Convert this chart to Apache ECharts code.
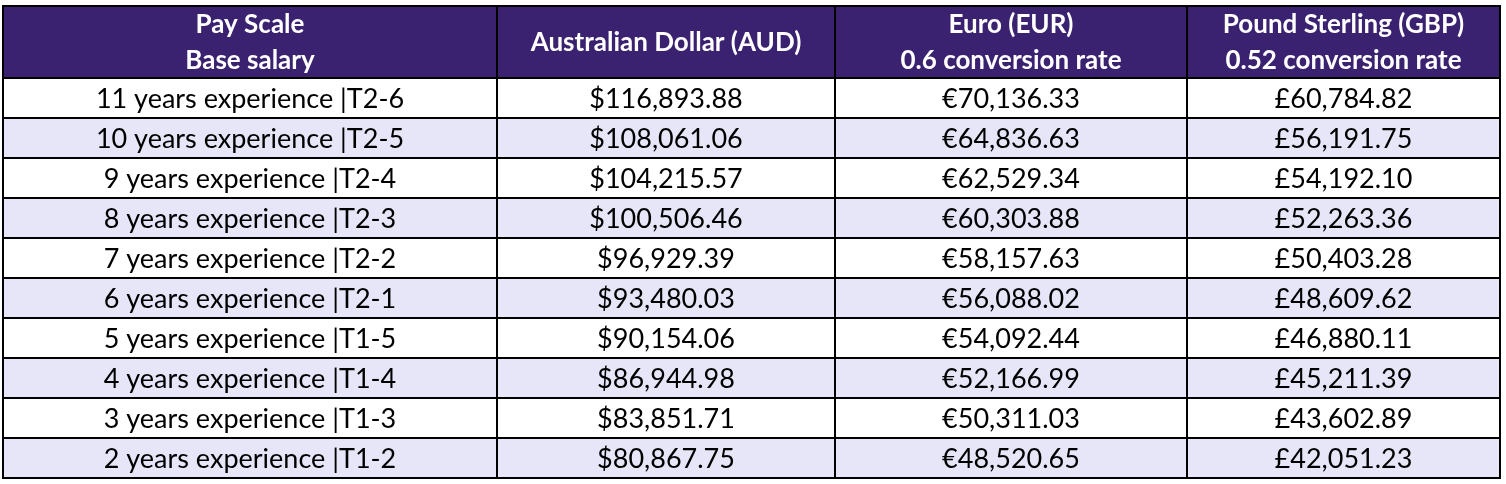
<!DOCTYPE html>
<html>
<head>
<meta charset="utf-8">
<script src="https://cdn.jsdelivr.net/npm/echarts@6/dist/echarts.min.js"></script>
<style>
  html, body { margin: 0; padding: 0; background: #fff; }
  #chart { width: 1506px; height: 484px; }
</style>
</head>
<body>
<div id="chart"></div>
<script>
// table contents
const headers = [
  'Pay Scale\nBase salary',
  'Australian Dollar (AUD)',
  'Euro (EUR)\n0.6 conversion rate',
  'Pound Sterling (GBP)\n0.52 conversion rate'
];
const payScale = [
  '11 years experience |T2-6',
  '10 years experience |T2-5',
  '9 years experience |T2-4',
  '8 years experience |T2-3',
  '7 years experience |T2-2',
  '6 years experience |T2-1',
  '5 years experience |T1-5',
  '4 years experience |T1-4',
  '3 years experience |T1-3',
  '2 years experience |T1-2'
];
const aud = [116893.88, 108061.06, 104215.57, 100506.46, 96929.39, 93480.03, 90154.06, 86944.98, 83851.71, 80867.75];
const eur = [70136.33, 64836.63, 62529.34, 60303.88, 58157.63, 56088.02, 54092.44, 52166.99, 50311.03, 48520.65];
const gbp = [60784.82, 56191.75, 54192.10, 52263.36, 50403.28, 48609.62, 46880.11, 45211.39, 43602.89, 42051.23];
const symbols = ['', '$', '€', '£'];

// layout: column widths in px
const colWidths = [494, 338, 352, 313];
const edges = [0];
colWidths.forEach(w => edges.push(edges[edges.length - 1] + w));
const total = edges[edges.length - 1];

const HEADER_BG = '#3a2270';
const STRIPE = '#e6e6f8';
const FONT = 'Lato, "Open Sans", sans-serif';

function money(v, sym) {
  const parts = v.toFixed(2).split('.');
  parts[0] = parts[0].replace(/\B(?=(\d{3})+(?!\d))/g, ',');
  return sym + parts.join('.');
}

const bodyText = payScale.map((name, i) => [
  name, money(aud[i], symbols[1]), money(eur[i], symbols[2]), money(gbp[i], symbols[3])
]);

const bodyData = [];
payScale.forEach((name, r) => {
  for (let c = 0; c < 4; c++) bodyData.push([c, name, bodyText[r][c], r]);
});
const headerData = headers.map((h, c) => [c, 'header', h]);

function cellRenderer(isHeader) {
  return function (params, api) {
    const c = api.value(0);
    const item = isHeader ? headerData[params.dataIndex] : bodyData[params.dataIndex];
    const catIndex = isHeader ? 0 : item[3];
    const p0 = api.coord([edges[c], catIndex]);
    const p1 = api.coord([edges[c + 1], catIndex]);
    const h = api.size([0, 1])[1];
    const fill = isHeader ? HEADER_BG : (item[3] % 2 === 1 ? STRIPE : '#ffffff');
    return {
      type: 'group',
      children: [{
        type: 'rect',
        shape: { x: p0[0], y: p0[1] - h / 2, width: p1[0] - p0[0], height: h },
        style: { fill: fill, stroke: '#000', lineWidth: 2 }
      }, {
        type: 'text',
        x: (p0[0] + p1[0]) / 2,
        y: p0[1] + 1,
        style: {
          text: item[2],
          align: 'center',
          verticalAlign: 'middle',
          fill: isHeader ? '#ffffff' : '#000000',
          font: (isHeader ? 'bold ' : '') + (isHeader ? '26px ' : '27px ') + FONT,
          lineHeight: 36
        }
      }]
    };
  };
}

const chart = echarts.init(document.getElementById('chart'));
chart.setOption({
  animation: false,
  grid: [
    { left: 3, top: 6, width: total, height: 72 },
    { left: 3, top: 78, width: total, height: 400 }
  ],
  xAxis: [
    { gridIndex: 0, type: 'value', min: 0, max: total, show: false },
    { gridIndex: 1, type: 'value', min: 0, max: total, show: false }
  ],
  yAxis: [
    { gridIndex: 0, type: 'category', data: ['header'], show: false },
    { gridIndex: 1, type: 'category', data: payScale, inverse: true, show: false }
  ],
  series: [
    {
      type: 'custom', xAxisIndex: 0, yAxisIndex: 0,
      renderItem: cellRenderer(true),
      encode: { x: 0, y: 1 },
      data: headerData
    },
    {
      type: 'custom', xAxisIndex: 1, yAxisIndex: 1,
      renderItem: cellRenderer(false),
      encode: { x: 0, y: 1 },
      data: bodyData
    }
  ]
});
</script>
</body>
</html>
